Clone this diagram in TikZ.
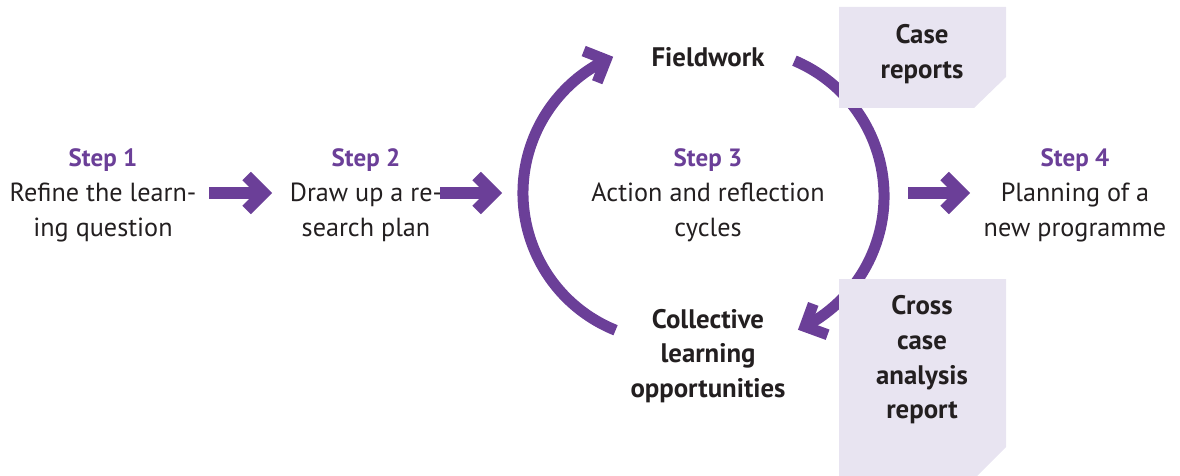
\documentclass[tikz,border=0pt]{standalone}
\usepackage{fontspec}
\setmainfont{PT Sans}
\usetikzlibrary{arrows.meta,bending}
\definecolor{purp}{HTML}{6B3F98}
\definecolor{ink}{HTML}{231F20}
\definecolor{lav}{HTML}{E8E4F1}
\newcommand\stplbl[1]{\textcolor{purp}{\fontsize{25}{35}\selectfont\bfseries #1}}
\begin{document}
\begin{tikzpicture}[x=1pt,y=1pt,
  txt/.style={font=\fontsize{26.2}{35}\selectfont, text=ink, align=center, inner sep=0pt},
  btxt/.style={txt, font=\fontsize{26.8}{34.7}\selectfont\bfseries},
  fat/.style={draw=purp, line width=12pt, -{Straight Barb[sharp, length=17pt, width=34pt, line width=12pt]}},
  cyc/.style={draw=purp, line width=11pt, -{Straight Barb[sharp, flex, length=17pt, width=34pt, line width=11pt]}},
  doc/.style={fill=lav, draw=none}]
\useasboundingbox (0,0) rectangle (1180,-476);
% step texts
\node[txt] (s1) at (103,-195) {\stplbl{Step 1}\\Refine the learn-\\ing question};
\node[txt] (s2) at (366,-195) {\stplbl{Step 2}\\Draw up a re-\\search plan};
\node[txt] (s3) at (708,-195) {\stplbl{Step 3}\\Action and reflection\\cycles};
\node[txt] (s4) at (1075,-195) {\stplbl{Step 4}\\Planning of a\\new programme};
\node[btxt] (fw) at (708,-57) {Fieldwork};
\node[btxt] (cl) at (708,-356) {Collective\\learning\\opportunities};
% straight arrows
\coordinate (a1s) at (209,-193); \coordinate (a1e) at (272,-193);
\coordinate (a2s) at (440,-193); \coordinate (a2e) at (502,-193);
\coordinate (a3s) at (908,-193); \coordinate (a3e) at (970,-193);
\draw[fat] (a1s) -- (a1e);
\draw[fat] (a2s) -- (a2e);
\draw[fat] (a3s) -- (a3e);
% cycle arcs
\coordinate (lc) at (671,-193);
\coordinate (rc) at (737,-196);
\draw[cyc] (lc) ++(248:148) arc[start angle=248, end angle=113, radius=148];
\draw[cyc] (rc) ++(67:147) arc[start angle=67, end angle=-65.5, radius=147];
% documents
\path[doc] (839,-7) -- (1006,-7) -- (1006,-77) -- (974,-108) -- (839,-108) -- cycle;
\path[doc] (839,-279) -- (1006,-279) -- (1006,-447) -- (977,-476) -- (839,-476) -- cycle;
\node[btxt] (cr) at (922,-54) {Case\\reports};
\node[btxt] (cc) at (922,-360) {Cross\\case\\analysis\\report};
\end{tikzpicture}
\end{document}
